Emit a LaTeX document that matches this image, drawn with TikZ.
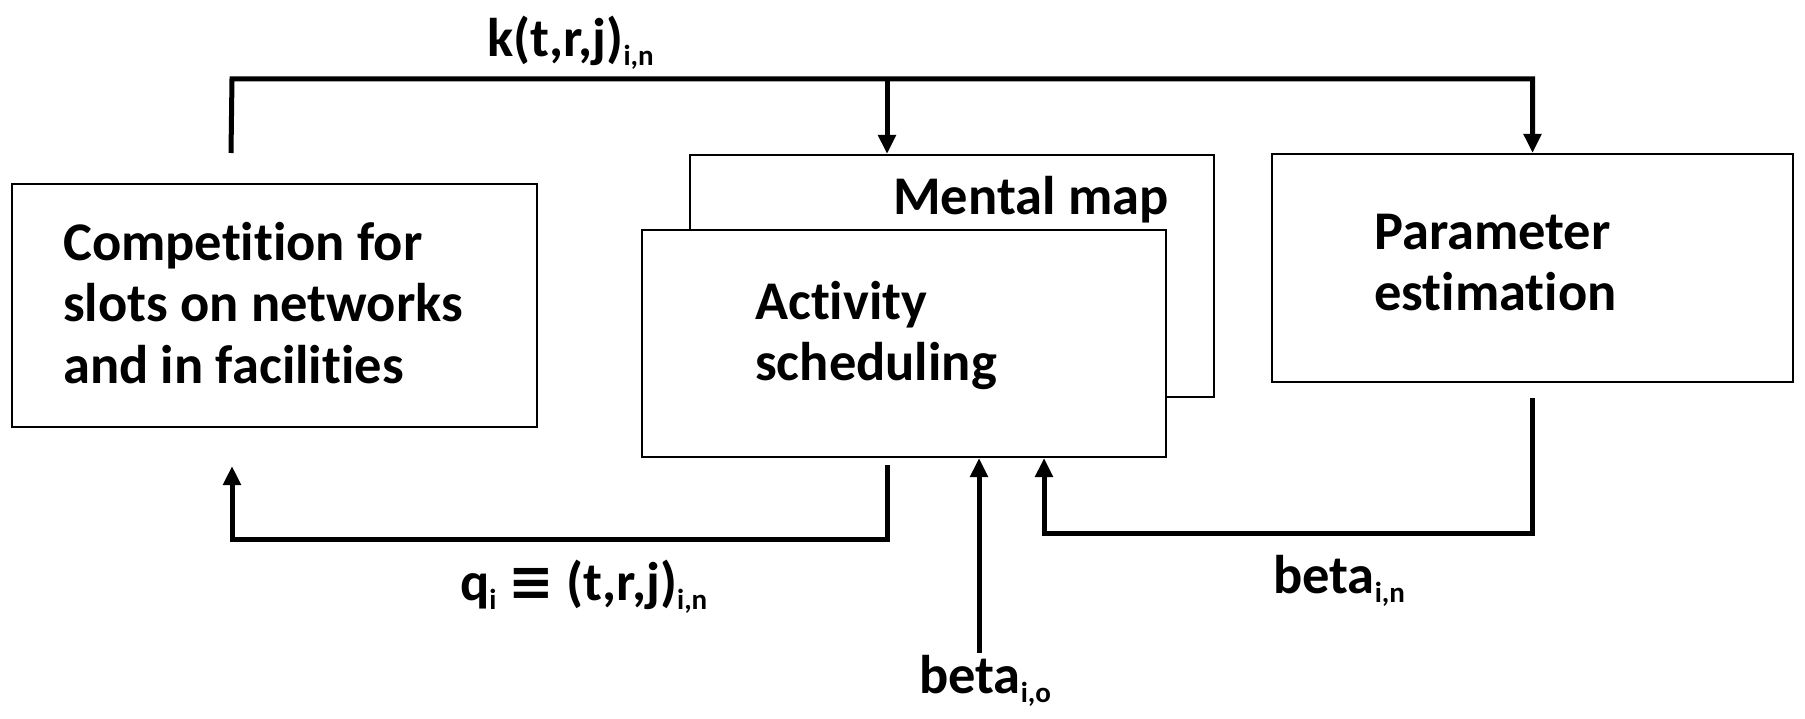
\documentclass[tikz,border=0pt]{standalone}
\usepackage{fontspec}
\setmainfont{Carlito}[Ligatures=NoCommon]
\newfontfamily\symfont{DejaVu Sans}
\usetikzlibrary{arrows.meta,calc}
% lowered, smaller index text
\newcommand\subtxt[1]{\raisebox{-9pt}{\fontsize{29}{29}\selectfont #1}}

\begin{document}
\begin{tikzpicture}[x=1pt,y=-1pt,
  box/.style={draw=black, line width=2pt, fill=white, inner sep=0pt},
  conn/.style={line width=5pt, line join=miter},
  arr/.style={conn, -{Triangle[length=19pt,width=17pt]}},
  txt/.style={anchor=base west, inner sep=0pt, font=\fontsize{54.5}{61.5}\selectfont\bfseries, align=left},
]
\useasboundingbox (0,0) rectangle (1805,719);

% boxes
\node[box, minimum width=525pt, minimum height=243pt] (comp) at (274.5,305.5) {};
\node[box, minimum width=524pt, minimum height=242pt] (mental) at (952,276) {};
\node[box, minimum width=524pt, minimum height=227pt] (activity) at (904,343.5) {};
\node[box, minimum width=521pt, minimum height=228pt] (param) at (1532.5,268) {};

% box texts (anchored at the baseline of the last line)
\node[txt] (comptxt) at (63,383) {Competition for\\slots on networks\\and in facilities};
\node[txt] (mentaltxt) at (893,215) {Mental map};
\node[txt] (acttxt) at (755,381) {Activity\\scheduling};
\node[txt] (paramtxt) at (1374,311) {Parameter\\estimation};

% connector labels
\node[txt] (klabel) at (487,57) {k(t,r,j)\subtxt{i,n}};
\node[txt] (qlabel) at (460,600) {q\subtxt{i} {\symfont\bfseries ≡} (t,r,j)\subtxt{i,n}};
\node[txt] (binlabel) at (1273,593) {beta\subtxt{i,n}};
\node[txt] (biolabel) at (919,693) {beta\subtxt{i,o}};

% k(t,r,j) feedback to mental map and parameter estimation
\coordinate (kstart) at ($(comp.north west)+(220,-30)$);
\coordinate (ktop) at (232,79);
\coordinate (kin) at ($(mental.north west)+(198,0)$);
\draw[arr] (kstart) -- (ktop) -| (param.north);
\draw[arr] (ktop -| kin) -- (kin);

% schedules back to competition
\coordinate (qstart) at (887,465);
\coordinate (qbend) at (887,539);
\coordinate (qend) at (232,466);
\draw[arr] (qstart) -- (qbend) -| (qend);

% initial parameters
\coordinate (biostart) at (979,653);
\draw[arr] (biostart) -- (biostart |- activity.south);

% estimated parameters
\coordinate (pstart) at ($(param.south)+(0,15)$);
\coordinate (pbend) at (1044,533);
\draw[arr] (pstart) |- (pbend) -- (pbend |- activity.south);
\end{tikzpicture}
\end{document}
